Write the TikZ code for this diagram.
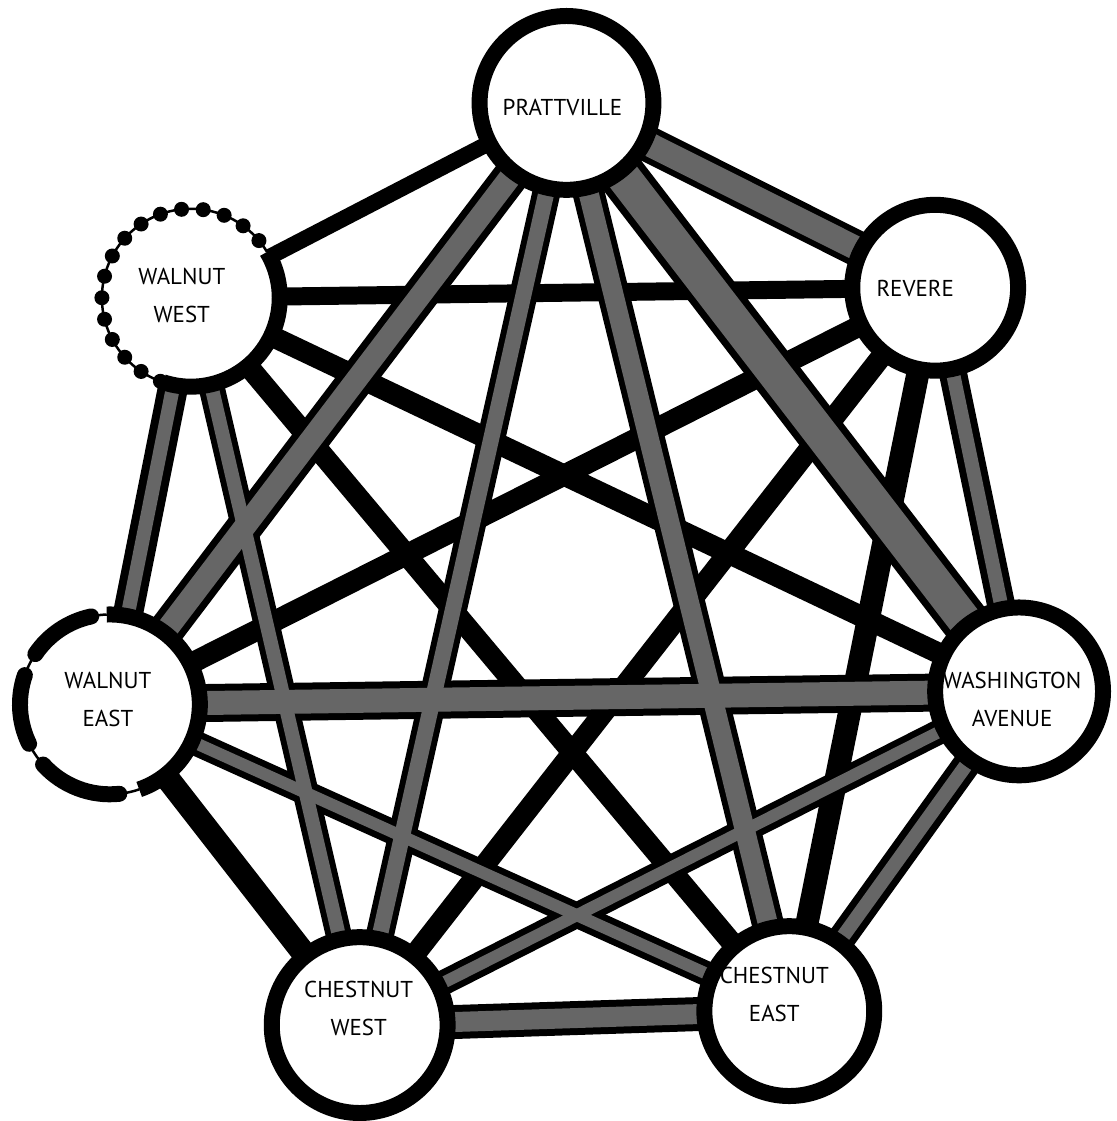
\documentclass[tikz,border=0pt]{standalone}
\usepackage{fontspec}
\setmainfont{PT Sans}
\definecolor{stip}{gray}{0.40}
\pgfdeclarelayer{paper}
\pgfdeclarelayer{edgelayer}
\pgfsetlayers{paper,edgelayer,main}
\begin{document}
\begin{tikzpicture}[x=1pt,y=-1pt,
  station/.style={circle, inner sep=0pt, minimum size=#1, fill=white, draw=black, line width=16pt},
  openstation/.style={circle, inner sep=0pt, minimum size=#1, fill=white},
  lbl/.style={font=\fontsize{23}{38}\selectfont, align=center, inner sep=0pt},
  band/.style={line width=#1pt, draw=black},
  core/.style={line width=#1pt, draw=stip},
  ring/.style={line width=16pt, draw=black},
  thinring/.style={line width=2.5pt, draw=black},
  bead/.style={fill=black}
]
\begin{pgfonlayer}{paper}
\path[use as bounding box, fill=white] (0,0) rectangle (1118,1121);
\end{pgfonlayer}

% stations
\node[station=174pt] (P)  at (567,103)  {};
\node[station=166pt] (R)  at (936,288)  {};
\node[openstation=178pt] (WW) at (191,298) {};
\node[openstation=180pt] (WE) at (110,705) {};
\node[station=168pt] (WA) at (1020,692) {};
\node[station=176pt] (CW) at (360,1026) {};
\node[station=170pt] (CE) at (790,1012) {};

% Walnut West: solid right part, beaded left part
\draw[ring] (WW.center) ++(252:89pt) arc[start angle=252, end angle=391, radius=89pt];
\draw[thinring] (WW.center) ++(31:89pt) arc[start angle=31, end angle=252, radius=89pt];
\foreach \a in {40,54,...,250} \fill[bead] (WW.center) ++(\a:89pt) circle[radius=7.5pt];

% Walnut East: solid right part, dashed left part
\draw[ring] (WE.center) ++(-71:90pt) arc[start angle=-71, end angle=92, radius=90pt];
\draw[thinring] (WE.center) ++(92:90pt) arc[start angle=92, end angle=289, radius=90pt];
\draw[ring, line cap=round] (WE.center) ++(102:90pt) arc[start angle=102, end angle=146, radius=90pt];
\draw[ring, line cap=round] (WE.center) ++(161:90pt) arc[start angle=161, end angle=206, radius=90pt];
\draw[ring, line cap=round] (WE.center) ++(222:90pt) arc[start angle=222, end angle=276, radius=90pt];

% labels
\node[lbl] (Pt)  at (563,108)  {PRATTVILLE};
\node[lbl] (Rt)  at (916,289)  {REVERE};
\node[lbl] (WWt) at (182,296)  {WALNUT\\WEST};
\node[lbl] (WEt) at (108,700)  {WALNUT\\EAST};
\node[lbl] (WAt) at (1013,700) {WASHINGTON\\AVENUE};
\node[lbl] (CWt) at (359,1009) {CHESTNUT\\WEST};
\node[lbl] (CEt) at (775,995)  {CHESTNUT\\EAST};

% connectors
\begin{pgfonlayer}{edgelayer}
\foreach \a/\b/\w in {P/WW/16, P/R/36, P/WA/48, P/WE/36, P/CW/28, P/CE/32,
                      R/WW/18, R/WE/21, R/CW/21, R/CE/23, R/WA/28,
                      WW/WA/21, WW/WE/30, WW/CW/26, WW/CE/21,
                      WE/WA/38, WE/CW/24, WE/CE/25,
                      WA/CW/25, WA/CE/28, CW/CE/34}
  \draw[band=\w] (\a.center) -- (\b.center);
\foreach \a/\b/\w in {P/R/24, P/WA/34, P/WE/22, P/CW/16, P/CE/20,
                      R/WA/14, WW/WE/14, WW/CW/14,
                      WE/WA/24, WE/CE/12, WA/CW/12, WA/CE/14, CW/CE/20}
  \draw[core=\w] (\a.center) -- (\b.center);
\end{pgfonlayer}
\end{tikzpicture}
\end{document}
